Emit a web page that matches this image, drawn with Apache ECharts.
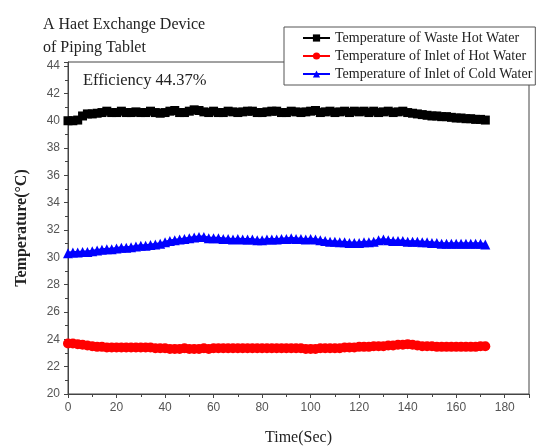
<!DOCTYPE html>
<html>
<head>
<meta charset="utf-8">
<script src="https://cdn.jsdelivr.net/npm/echarts@6/dist/echarts.min.js"></script>
<style>
  html, body { margin: 0; padding: 0; background: #fff; }
  #chart { width: 544px; height: 448px; }
</style>
</head>
<body>
<div id="chart"></div>
<script>
// time samples (sec), every 2 s
const times = [];
for (let t = 0; t <= 172; t += 2) times.push(t);

const wasteHot = [
  40.0, 40.0, 40.05, 40.35, 40.5, 40.5, 40.55, 40.6, 40.7, 40.6,
  40.6, 40.7, 40.6, 40.6, 40.65, 40.6, 40.6, 40.7, 40.6, 40.55,
  40.6, 40.7, 40.75, 40.6, 40.6, 40.7, 40.8, 40.75, 40.65, 40.6,
  40.7, 40.6, 40.6, 40.7, 40.65, 40.6, 40.65, 40.7, 40.7, 40.6,
  40.6, 40.65, 40.7, 40.7, 40.6, 40.6, 40.7, 40.65, 40.6, 40.65,
  40.7, 40.75, 40.6, 40.65, 40.7, 40.6, 40.65, 40.7, 40.6, 40.7,
  40.65, 40.7, 40.6, 40.7, 40.6, 40.65, 40.7, 40.6, 40.65, 40.7,
  40.6, 40.55, 40.5, 40.45, 40.4, 40.35, 40.35, 40.3, 40.3, 40.25,
  40.2, 40.2, 40.15, 40.15, 40.1, 40.1, 40.05
];

const inletHot = [
  23.7, 23.7, 23.65, 23.6, 23.55, 23.5, 23.45, 23.45, 23.4, 23.4,
  23.4, 23.4, 23.4, 23.4, 23.4, 23.4, 23.4, 23.4, 23.35, 23.35,
  23.35, 23.3, 23.3, 23.3, 23.35, 23.3, 23.3, 23.3, 23.35, 23.3,
  23.35, 23.35, 23.35, 23.35, 23.35, 23.35, 23.35, 23.35, 23.35, 23.35,
  23.35, 23.35, 23.35, 23.35, 23.35, 23.35, 23.35, 23.35, 23.35, 23.3,
  23.3, 23.3, 23.35, 23.35, 23.35, 23.35, 23.35, 23.4, 23.4, 23.4,
  23.45, 23.45, 23.45, 23.5, 23.5, 23.5, 23.55, 23.55, 23.6, 23.6,
  23.65, 23.6, 23.55, 23.5, 23.5, 23.5, 23.45, 23.45, 23.45, 23.45,
  23.45, 23.45, 23.45, 23.45, 23.45, 23.5, 23.5
];

const inletCold = [
  30.3, 30.35, 30.35, 30.4, 30.4, 30.45, 30.5, 30.55, 30.6, 30.6,
  30.65, 30.7, 30.7, 30.75, 30.8, 30.85, 30.85, 30.9, 30.95, 31.0,
  31.1, 31.2, 31.25, 31.3, 31.35, 31.4, 31.45, 31.5, 31.5, 31.4,
  31.4, 31.4, 31.35, 31.35, 31.3, 31.35, 31.3, 31.3, 31.3, 31.25,
  31.25, 31.3, 31.3, 31.3, 31.35, 31.35, 31.4, 31.35, 31.35, 31.3,
  31.35, 31.3, 31.25, 31.2, 31.15, 31.15, 31.1, 31.1, 31.05, 31.05,
  31.05, 31.1, 31.1, 31.15, 31.25, 31.3, 31.25, 31.2, 31.2, 31.2,
  31.15, 31.15, 31.15, 31.1, 31.1, 31.05, 31.05, 31.0, 31.0, 31.0,
  31.0, 31.0, 31.0, 31.0, 31.0, 31.0, 30.95
];

const seriesNames = [
  'Temperature of Waste Hot Water',
  'Temperature of Inlet of Hot Water',
  'Temperature of Inlet of Cold Water'
];

const serif = 'Liberation Serif';
const chart = echarts.init(document.getElementById('chart'));

const pairs = (vals) => times.map((t, i) => [t, vals[i]]);

const makeSeries = (name, vals, color, symbol, size) => ({
  name: name,
  type: 'line',
  data: pairs(vals),
  symbol: symbol,
  symbolSize: size,
  showAllSymbol: true,
  itemStyle: { color: color },
  lineStyle: { color: color, width: 3 },
  animation: false
});

chart.setOption({
  backgroundColor: '#fff',
  animation: false,
  title: {
    text: 'A Haet Exchange Device\nof Piping Tablet',
    left: 38,
    top: 8,
    textStyle: {
      fontFamily: serif,
      fontWeight: 'normal',
      fontSize: 16,
      lineHeight: 23,
      color: '#222'
    }
  },
  graphic: [{
    type: 'text',
    left: 83,
    top: 72,
    style: {
      text: 'Efficiency 44.37%',
      font: '16.5px "Liberation Serif"',
      fill: '#222'
    }
  }],
  legend: {
    orient: 'vertical',
    left: 284,
    top: 27,
    padding: [4, 3, 4, 18],
    itemGap: 4,
    itemWidth: 27,
    itemHeight: 9,
    backgroundColor: '#fff',
    borderColor: '#555',
    borderWidth: 1,
    textStyle: { fontFamily: serif, fontSize: 14, color: '#222' },
    data: seriesNames
  },
  grid: {
    left: 68,
    right: 15,
    top: 62,
    bottom: 54,
    outerBoundsMode: 'none',
    containLabel: false,
    show: true,
    borderColor: '#444',
    borderWidth: 1
  },
  xAxis: {
    type: 'value',
    min: 0,
    max: 190,
    interval: 20,
    name: 'Time(Sec)',
    nameLocation: 'middle',
    nameGap: 36,
    nameTextStyle: { fontFamily: serif, fontSize: 16, color: '#222' },
    axisLine: { lineStyle: { color: '#444' } },
    axisTick: { inside: false, length: 4, lineStyle: { color: '#444' } },
    minorTick: { show: true, splitNumber: 2, length: 3, lineStyle: { color: '#444' } },
    splitLine: { show: false },
    axisLabel: {
      fontFamily: 'Liberation Sans',
      fontSize: 12,
      color: '#555',
      margin: 8,
      formatter: (v) => (v <= 180 ? String(v) : '')
    }
  },
  yAxis: {
    type: 'value',
    min: 20,
    max: 44.3,
    interval: 2,
    name: 'Temperature(°C)',
    nameLocation: 'middle',
    nameGap: 38,
    nameTextStyle: { fontFamily: serif, fontSize: 16, fontWeight: 'bold', color: '#222' },
    axisLine: { show: true, lineStyle: { color: '#444' } },
    axisTick: { show: true, length: 4, lineStyle: { color: '#444' } },
    minorTick: { show: true, splitNumber: 2, length: 3, lineStyle: { color: '#444' } },
    splitLine: { show: false },
    axisLabel: {
      fontFamily: 'Liberation Sans',
      fontSize: 12,
      color: '#555',
      margin: 8,
      showMaxLabel: false,
      formatter: (v) => (v % 2 === 0 ? String(v) : '')
    }
  },
  series: [
    makeSeries(seriesNames[0], wasteHot, '#000', 'rect', 9),
    makeSeries(seriesNames[1], inletHot, '#ff0000', 'circle', 10),
    makeSeries(seriesNames[2], inletCold, '#0000ff', 'triangle', 10)
  ]
});
</script>
</body>
</html>
